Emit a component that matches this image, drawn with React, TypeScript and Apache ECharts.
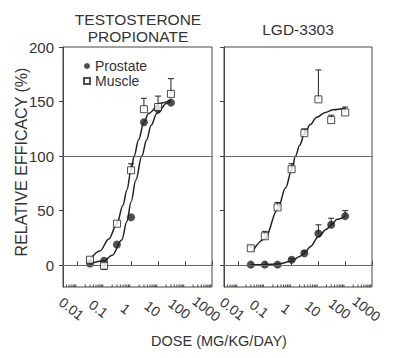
import React, { useEffect, useRef } from 'react';
import * as echarts from 'echarts';

const FONT = '"Liberation Sans", Arial, Helvetica, sans-serif';
const INK = '#222';
const TEXT = '#333';
const FRAME = '#444';

const X_MIN = 0.003;
const X_MAX = 1000;
const Y_MIN = -20;
const Y_MAX = 200;
const Y_TICKS = [0, 50, 100, 150, 200];
const REF_LINES = [0, 100];

// Testosterone propionate
const TP_DOSES = [0.03, 0.1, 0.3, 1, 3, 10, 30];
const TP_PROSTATE = [1.5, 4, 19, 44, 131, 143, 149];
const TP_MUSCLE = [5, -0.5, 38, 87, 143, 145, 157];
const TP_MUSCLE_ERR = [0, -3.5, 0, 6, 10, 10, 14];

const TP_PROSTATE_FIT_X = [0.03, 0.1, 0.2, 0.45, 0.7, 1, 1.5, 2.5, 3.8, 5.5, 9, 21, 30];
const TP_PROSTATE_FIT_Y = [1, 4, 9, 23, 40, 58, 78, 100, 115, 128, 139, 148.5, 150];
const TP_MUSCLE_FIT_X = [0.03, 0.07, 0.15, 0.3, 0.5, 0.7, 1, 1.3, 1.9, 3, 4.4, 12, 30];
const TP_MUSCLE_FIT_Y = [5, 13, 24, 38, 55, 69, 87, 100, 115, 131, 139, 148.5, 151.5];

// LGD-3303
const LGD_DOSES = [0.03, 0.1, 0.3, 1, 3, 10, 30, 100];
const LGD_PROSTATE = [0.5, 0.5, 0.5, 5, 11, 29, 37, 45];
const LGD_PROSTATE_ERR = [0, 0, 0, 1, 2, 8, 6, 5];
const LGD_MUSCLE = [15.5, 26.5, 53, 88, 121, 152, 133, 140];
const LGD_MUSCLE_ERR = [2, 4.5, 4.5, 5, 4, 27, 4.5, 5];

const LGD_PROSTATE_FIT_X = [0.03, 0.1, 0.3, 1, 2, 3, 5, 10, 20, 30, 50, 100];
const LGD_PROSTATE_FIT_Y = [0.3, 0.5, 1, 3.5, 8, 11, 17, 26, 33, 37, 42, 45];
const LGD_MUSCLE_FIT_X = [0.035, 0.1, 0.3, 0.6, 1, 1.4, 2, 3, 5, 8.6, 18, 36, 100];
const LGD_MUSCLE_FIT_Y = [13, 24, 51, 71, 87, 100, 110, 120, 129, 135.5, 140, 142.4, 144];

const MINOR_TICKS: number[] = [];
for (let e = -3; e <= 2; e++) {
  for (let m = 2; m <= 9; m++) {
    const v = m * Math.pow(10, e);
    if (v > X_MIN * 1.0001 && v < X_MAX) MINOR_TICKS.push(v);
  }
}

const pairs = (xs: number[], ys: number[]) => xs.map((x, i) => [x, ys[i]]);
const triples = (xs: number[], ys: number[], es: number[]) =>
  xs.map((x, i) => [x, ys[i], es[i]]).filter((d) => d[2] !== 0);

const fmtLog = (v: number) => {
  const l = Math.log10(v);
  const r = Math.round(l);
  if (Math.abs(l - r) > 1e-6) return '';
  return r < 0 ? Math.pow(10, r).toFixed(-r) : String(Math.round(Math.pow(10, r)));
};

const xAxis = (gridIndex: number) => ({
  type: 'log',
  logBase: 10,
  gridIndex,
  min: X_MIN,
  max: X_MAX,
  axisLine: { show: true, lineStyle: { color: FRAME, width: 1 } },
  axisTick: { show: true, inside: true, length: 4, lineStyle: { color: FRAME, width: 1 } },
  axisLabel: {
    show: true,
    rotate: -38,
    align: 'center',
    verticalAlign: 'middle',
    padding: [0, 14, 0, 0],
    margin: 26,
    fontSize: 14,
    color: TEXT,
    fontFamily: FONT,
    showMinLabel: true,
    showMaxLabel: true,
    formatter: fmtLog,
  },
  splitLine: { show: false },
  minorTick: { show: false },
  minorSplitLine: { show: false },
});

const yAxis = (gridIndex: number, showLabels: boolean) => ({
  type: 'value',
  gridIndex,
  min: Y_MIN,
  max: Y_MAX,
  axisLine: { show: true, lineStyle: { color: FRAME, width: 1 } },
  axisTick: { show: true, inside: false, length: 4, customValues: Y_TICKS, lineStyle: { color: FRAME } },
  axisLabel: {
    show: showLabels,
    customValues: Y_TICKS,
    margin: 9,
    fontSize: 15,
    color: TEXT,
    fontFamily: FONT,
  },
  splitLine: { show: false },
});

const minorTickSeries = (idx: number) => ({
  type: 'custom',
  xAxisIndex: idx,
  yAxisIndex: idx,
  silent: true,
  z: 1,
  data: MINOR_TICKS.map((v) => [v, Y_MIN]),
  renderItem: (_p: any, api: any) => {
    const p = api.coord([api.value(0), Y_MIN]);
    return {
      type: 'line',
      shape: { x1: p[0], y1: p[1], x2: p[0], y2: p[1] - 2.5 },
      style: { stroke: FRAME, lineWidth: 1 },
    };
  },
});

const errorSeries = (idx: number, data: number[][]) => ({
  type: 'custom',
  xAxisIndex: idx,
  yAxisIndex: idx,
  silent: true,
  z: 2,
  data,
  renderItem: (_p: any, api: any) => {
    const x = api.value(0);
    const y = api.value(1);
    const e = api.value(2);
    const p0 = api.coord([x, y]);
    const p1 = api.coord([x, y + e]);
    const st = { stroke: INK, lineWidth: 1 };
    return {
      type: 'group',
      children: [
        { type: 'line', shape: { x1: p0[0], y1: p0[1], x2: p1[0], y2: p1[1] }, style: st },
        { type: 'line', shape: { x1: p1[0] - 3, y1: p1[1], x2: p1[0] + 3, y2: p1[1] }, style: st },
      ],
    };
  },
});

const fitSeries = (idx: number, name: string, data: number[][], withRef: boolean) => ({
  type: 'line',
  name,
  xAxisIndex: idx,
  yAxisIndex: idx,
  data,
  symbol: 'none',
  showSymbol: false,
  smooth: 0.35,
  smoothMonotone: 'x',
  silent: true,
  z: 3,
  lineStyle: { color: INK, width: 1.5 },
  markLine: withRef
    ? {
        silent: true,
        symbol: ['none', 'none'],
        label: { show: false },
        lineStyle: { color: '#666', width: 1, type: 'solid' },
        data: REF_LINES.map((v) => ({ yAxis: v })),
      }
    : undefined,
});

const prostateSeries = (idx: number, data: number[][]) => ({
  type: 'scatter',
  name: 'Prostate',
  xAxisIndex: idx,
  yAxisIndex: idx,
  data,
  symbol: 'circle',
  symbolSize: 8,
  z: 4,
  itemStyle: { color: INK },
});

const muscleSeries = (idx: number, data: number[][]) => ({
  type: 'scatter',
  name: 'Muscle',
  xAxisIndex: idx,
  yAxisIndex: idx,
  data,
  symbol: 'rect',
  symbolSize: 7,
  z: 5,
  itemStyle: { color: '#fff', borderColor: INK, borderWidth: 1 },
});

const txt = (text: string, x: number, y: number, size: number, rotation = 0) => ({
  type: 'text',
  x,
  y,
  rotation,
  silent: true,
  style: {
    text,
    fill: TEXT,
    fontSize: size,
    fontFamily: FONT,
    align: 'center',
    verticalAlign: 'middle',
  },
});

const option: any = {
  animation: false,
  backgroundColor: '#fff',
  grid: [
    { left: 63, top: 47, width: 149, height: 240, show: true, borderColor: FRAME, borderWidth: 1, outerBoundsMode: 'none' },
    { left: 224, top: 47, width: 148, height: 240, show: true, borderColor: FRAME, borderWidth: 1, outerBoundsMode: 'none' },
  ],
  xAxis: [xAxis(0), xAxis(1)],
  yAxis: [yAxis(0, true), yAxis(1, false)],
  legend: {
    data: ['Prostate', 'Muscle'],
    orient: 'vertical',
    left: 83,
    top: 59,
    padding: 0,
    itemGap: 1,
    itemWidth: 6,
    itemHeight: 6,
    selectedMode: false,
    textStyle: { fontSize: 14, color: TEXT, fontFamily: FONT },
  },
  graphic: [
    txt('TESTOSTERONE', 138, 19, 15.5),
    txt('PROPIONATE', 138, 36, 15.5),
    txt('LGD-3303', 298, 29, 15.5),
    txt('RELATIVE EFFICACY (%)', 21, 162, 16, Math.PI / 2),
    txt('DOSE (MG/KG/DAY)', 219, 341, 14.5),
  ],
  series: [
    minorTickSeries(0),
    minorTickSeries(1),
    fitSeries(0, 'TP prostate fit', pairs(TP_PROSTATE_FIT_X, TP_PROSTATE_FIT_Y), true),
    fitSeries(0, 'TP muscle fit', pairs(TP_MUSCLE_FIT_X, TP_MUSCLE_FIT_Y), false),
    fitSeries(1, 'LGD prostate fit', pairs(LGD_PROSTATE_FIT_X, LGD_PROSTATE_FIT_Y), true),
    fitSeries(1, 'LGD muscle fit', pairs(LGD_MUSCLE_FIT_X, LGD_MUSCLE_FIT_Y), false),
    errorSeries(0, triples(TP_DOSES, TP_MUSCLE, TP_MUSCLE_ERR)),
    errorSeries(1, triples(LGD_DOSES, LGD_PROSTATE, LGD_PROSTATE_ERR)),
    errorSeries(1, triples(LGD_DOSES, LGD_MUSCLE, LGD_MUSCLE_ERR)),
    prostateSeries(0, pairs(TP_DOSES, TP_PROSTATE)),
    muscleSeries(0, pairs(TP_DOSES, TP_MUSCLE)),
    prostateSeries(1, pairs(LGD_DOSES, LGD_PROSTATE)),
    muscleSeries(1, pairs(LGD_DOSES, LGD_MUSCLE)),
  ],
};

export default function App() {
  const ref = useRef<HTMLDivElement>(null);
  useEffect(() => {
    document.body.style.margin = '0';
    const chart = echarts.init(ref.current as HTMLDivElement, null, { renderer: 'svg', width: 414, height: 358 });
    chart.setOption(option);
    return () => chart.dispose();
  }, []);
  return <div ref={ref} style={{ width: 414, height: 358 }} />;
}
